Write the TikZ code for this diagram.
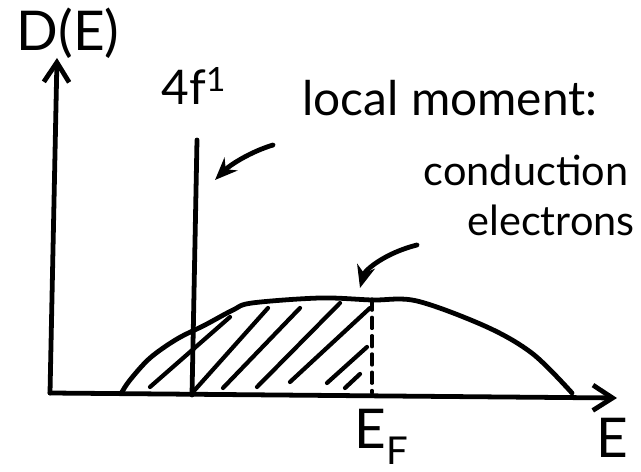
\documentclass[tikz,border=0pt]{standalone}
\usepackage{fontspec}
\setmainfont{Lato}
\usetikzlibrary{arrows.meta}

\begin{document}
\begin{tikzpicture}[x=0.025cm, y=-0.025cm, line width=3.4pt, line cap=round, line join=round]
\tikzset{
  lbl/.style={inner sep=0pt, font=\fontsize{34}{40}\selectfont},
  small/.style={inner sep=0pt, font=\fontsize{29.5}{34}\selectfont},
  big/.style={inner sep=0pt, font=\fontsize{39}{46}\selectfont},
  axis/.style={-{Straight Barb[length=14pt, width=18pt]}},
  ptr/.style={-{Stealth[length=16pt, width=13pt]}}
}
\useasboundingbox (0,0) rectangle (641,472);
% axes
\coordinate (O) at (50,393);
\coordinate (ytop) at (57,58);
\coordinate (xend) at (617,398);
\draw[axis] (O) -- (ytop);
\draw[axis] (O) -- (xend);
% 4f level
\coordinate (ftop) at (197,140);
\coordinate (fbot) at (192,395);
\draw (fbot) -- (ftop);
% conduction band
\draw plot[smooth, tension=0.55] coordinates {(122,392) (130,380) (150,358) (177,339) (205,325) (233,310) (252,303) (320,298) (372,300) (417,301) (487,327) (533,354) (572,393)};
% filled states
\foreach \a/\b/\c/\d in {150/387/230/317, 193/392/268/308, 223/388/300/308, 257/387/340/303, 290/382/370/308, 327/383/367/347, 345/388/360/374}
  \draw[line width=3pt] (\a,\b) -- (\c,\d);
% Fermi level
\coordinate (ef) at (372,299);
\coordinate (efb) at (372,393);
\draw[line width=2.2pt, dash pattern=on 8pt off 5pt] (ef) -- (efb);
% labels
\node[big] (dos) at (68,33) {D(E)};
\node[lbl] (f1) at (194,86) {4f\textsuperscript{1}};
\node[lbl] (lm) at (450,98) {local moment:};
\node[small] (ce1) at (526,170) {conduction};
\node[small] (ce2) at (551,220) {electrons};
\node[big] (efl) at (382,437) {E\textsubscript{F}};
\node[big] (el) at (612,438) {E};
% pointers
\coordinate (lmA) at (273,145);
\coordinate (lmB) at (215,180);
\draw[ptr] (lmA) .. controls (250,152) and (230,165) .. (lmB);
\coordinate (ceA) at (417,245);
\coordinate (ceB) at (360,288);
\draw[ptr] (ceA) .. controls (385,253) and (365,270) .. (ceB);
\end{tikzpicture}
\end{document}
